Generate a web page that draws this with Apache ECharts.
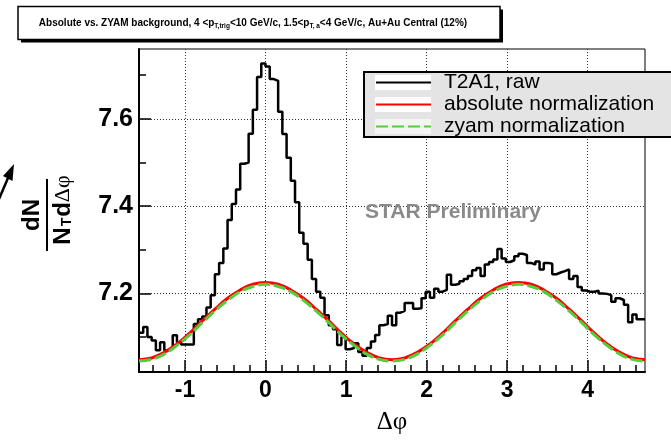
<!DOCTYPE html>
<html><head><meta charset="utf-8">
<script src="https://cdn.jsdelivr.net/npm/echarts@6/dist/echarts.min.js"></script>
<style>html,body{margin:0;padding:0;background:#fff}#c{width:671px;height:440px}</style>
</head><body><div id="c"></div>
<script>
// ---- data ----
const nBins = 120;
const xMin = -Math.PI / 2, xMax = 3 * Math.PI / 2;
const seriesNames = ['T2A1, raw', 'absolute normalization', 'zyam normalization'];
// raw correlation histogram, one value per bin (120 bins from -pi/2 to 3pi/2)
const rawValues = [
  7.110, 7.123, 7.100, 7.092, 7.070, 7.088, 7.070, 7.074, 7.104, 7.088, 7.083, 7.083, 7.083,
  7.130, 7.141, 7.147, 7.168, 7.196, 7.244, 7.270, 7.303, 7.368, 7.405, 7.438, 7.497, 7.500, 7.566, 7.621, 7.696, 7.727,
  7.720, 7.691, 7.687, 7.616, 7.565, 7.511, 7.458, 7.409, 7.339, 7.314, 7.277, 7.233, 7.204,
  7.190, 7.150, 7.127, 7.118, 7.082, 7.100, 7.072, 7.075, 7.086, 7.066, 7.057, 7.075, 7.090, 7.105, 7.127, 7.130, 7.149, 7.127, 7.156, 7.160, 7.178, 7.178, 7.165, 7.166,
  7.189, 7.204, 7.190, 7.211, 7.204, 7.208, 7.243, 7.220, 7.222, 7.228, 7.233, 7.240, 7.253, 7.258, 7.240, 7.266, 7.272, 7.278, 7.302, 7.280, 7.272, 7.276, 7.285,
  7.291, 7.288, 7.270, 7.266, 7.273, 7.255, 7.270, 7.268, 7.244, 7.248, 7.251, 7.255, 7.233, 7.240, 7.215, 7.207, 7.204, 7.204, 7.206, 7.200, 7.199, 7.196, 7.181, 7.189, 7.185, 7.174, 7.134, 7.152, 7.141, 7.141
];
// background curves sampled at 41 evenly spaced points across the axis range
const absValues = [7.048, 7.052, 7.065, 7.084, 7.109, 7.137, 7.164, 7.189, 7.208, 7.221, 7.225, 7.221, 7.208, 7.189, 7.164, 7.137, 7.109, 7.084, 7.065, 7.052, 7.048,
  7.052, 7.065, 7.084, 7.109, 7.137, 7.164, 7.189, 7.208, 7.221, 7.225, 7.221, 7.208, 7.189, 7.164, 7.137, 7.109, 7.084, 7.065, 7.052, 7.048];
const zyamValues = [7.045, 7.049, 7.061, 7.081, 7.105, 7.133, 7.160, 7.184, 7.204, 7.216, 7.221, 7.216, 7.204, 7.184, 7.160, 7.133, 7.105, 7.081, 7.061, 7.049, 7.045,
  7.049, 7.061, 7.081, 7.105, 7.133, 7.160, 7.184, 7.204, 7.216, 7.221, 7.216, 7.204, 7.184, 7.160, 7.133, 7.105, 7.081, 7.061, 7.049, 7.045];
const xMajorTicks = [-1, 0, 1, 2, 3, 4];
const xMinorTicks = [-1.4, -1.2, -0.8, -0.6, -0.4, -0.2, 0.2, 0.4, 0.6, 0.8, 1.2, 1.4, 1.6, 1.8, 2.2, 2.4, 2.6, 2.8, 3.2, 3.4, 3.6, 3.8, 4.2, 4.4, 4.6];
const yMajorTicks = [7.2, 7.4, 7.6];
const yMinorTicks = [7.1, 7.3, 7.5, 7.7];
const yMin = 7.02, yMax = 7.76;

// ---- build ----
const binW = (xMax - xMin) / nBins;
const rawData = [];
for (let i = 0; i <= nBins; i++) rawData.push([xMin + i * binW, rawValues[Math.min(i, nBins - 1)]]);
const nCurve = absValues.length;
const curveStep = (xMax - xMin) / (nCurve - 1);
const absData = absValues.map((v, k) => [xMin + k * curveStep, v]);
const zyamData = zyamValues.map((v, k) => [xMin + k * curveStep, v]);

const SANS = 'Liberation Sans, Arial, sans-serif';
const SERIF = 'Liberation Serif, Times New Roman, serif';
const gridStyle = { show: true, lineStyle: { color: '#333', width: 1, type: [1, 2] } };

const chart = echarts.init(document.getElementById('c'), null, { renderer: 'canvas' });
chart.setOption({
  animation: false,
  backgroundColor: '#fff',
  grid: { left: 139, top: 49, width: 506, height: 336, show: true, borderColor: '#000', borderWidth: 1 },
  xAxis: [{
    type: 'value', min: xMin, max: xMax, position: 'bottom',
    axisLine: { show: true, onZero: false, lineStyle: { color: '#000', width: 2 } },
    axisTick: { show: true, inside: true, length: 12, customValues: xMajorTicks, lineStyle: { color: '#000', width: 1.5 } },
    axisLabel: { customValues: xMajorTicks, fontSize: 23, fontWeight: 'bold', color: '#000', fontFamily: SANS, margin: 7 },
    splitLine: gridStyle,
    name: 'Δφ', nameLocation: 'middle', nameGap: 38,
    nameTextStyle: { fontFamily: SERIF, fontSize: 25, color: '#000' }
  }, {
    type: 'value', min: xMin, max: xMax, position: 'bottom',
    axisLine: { show: false, onZero: false },
    axisTick: { show: true, inside: true, length: 7, customValues: xMinorTicks, lineStyle: { color: '#000', width: 1.5 } },
    axisLabel: { show: false }, splitLine: { show: false }
  }],
  yAxis: [{
    type: 'value', min: yMin, max: yMax, position: 'left',
    axisLine: { show: true, onZero: false, lineStyle: { color: '#000', width: 2 } },
    axisTick: { show: true, inside: true, length: 12, customValues: yMajorTicks, lineStyle: { color: '#000', width: 1.5 } },
    axisLabel: { customValues: yMajorTicks, fontSize: 25, fontWeight: 'bold', color: '#000', fontFamily: SANS, margin: 6 },
    splitLine: gridStyle
  }, {
    type: 'value', min: yMin, max: yMax, position: 'left',
    axisLine: { show: false, onZero: false },
    axisTick: { show: true, inside: true, length: 7, customValues: yMinorTicks, lineStyle: { color: '#000', width: 1.5 } },
    axisLabel: { show: false }, splitLine: { show: false }
  }],
  legend: {
    data: seriesNames, orient: 'vertical', left: 363, top: 71,
    padding: [1, 0, 0, 12], itemGap: 1, itemWidth: 55, itemHeight: 21,
    itemStyle: { opacity: 0 },
    textStyle: { fontSize: 21, fontFamily: SANS, color: '#000', padding: [0, 0, 0, 8] },
    selectedMode: false, z: 5
  },
  series: [{
    name: seriesNames[0], type: 'line', step: 'end', data: rawData, xAxisIndex: 0, yAxisIndex: 0,
    symbol: 'none', lineStyle: { color: '#000', width: 2.5 }, itemStyle: { color: '#000' }, z: 2
  }, {
    name: seriesNames[1], type: 'line', smooth: 0.4, data: absData, xAxisIndex: 0, yAxisIndex: 0,
    symbol: 'none', lineStyle: { color: '#ff0000', width: 3 }, itemStyle: { color: '#ff0000' }, z: 3
  }, {
    name: seriesNames[2], type: 'line', smooth: 0.4, data: zyamData, xAxisIndex: 0, yAxisIndex: 0,
    symbol: 'none', lineStyle: { color: '#55cc3a', width: 3, type: [12, 4] }, itemStyle: { color: '#55cc3a' }, z: 4
  }],
  graphic: [
    // title box with shadow
    { type: 'rect', z: 3, shape: { x: 21, y: 9.5, width: 482, height: 33 }, style: { fill: '#000' } },
    { type: 'rect', z: 3, shape: { x: 18, y: 6.5, width: 482, height: 33 }, style: { fill: '#fff', stroke: '#000', lineWidth: 1.5 } },
    { type: 'text', z: 4, x: 253, y: 23, style: {
        text: '{b|Absolute vs. ZYAM background, 4 <p}{s|T,trig}{b|<10 GeV/c, 1.5<p}{s|T, a}{b|<4 GeV/c, Au+Au Central (12%)}',
        align: 'center', verticalAlign: 'middle',
        rich: { b: { fontSize: 10, fontWeight: 'bold', fontFamily: SANS, fill: '#000' },
                s: { fontSize: 6.5, fontWeight: 'bold', fontFamily: SANS, fill: '#000', padding: [7, 0, 0, 0] } } } },
    // legend box
    { type: 'rect', z: 3, shape: { x: 364, y: 72, width: 320, height: 65 }, style: { fill: '#e4e4e4', stroke: '#000', lineWidth: 2 } },
    { type: 'rect', z: 3, shape: { x: 375, y: 75, width: 56, height: 15 }, style: { fill: '#fff' } },
    { type: 'rect', z: 3, shape: { x: 375, y: 97, width: 56, height: 15 }, style: { fill: '#fff' } },
    { type: 'rect', z: 3, shape: { x: 375, y: 119, width: 56, height: 15 }, style: { fill: '#f4f4f4' } },
    // preliminary label
    { type: 'text', z: 3, x: 453, y: 212, style: { text: 'STAR Preliminary', align: 'center', verticalAlign: 'middle',
        fontSize: 21, fontWeight: 'bold', fontFamily: SANS, fill: '#8a8a8a' } },
    // y-axis title as a fraction, rotated
    { type: 'group', x: 47, y: 215, rotation: Math.PI / 2, children: [
        { type: 'line', shape: { x1: -36, y1: 0, x2: 36, y2: 0 }, style: { stroke: '#000', lineWidth: 2 } },
        { type: 'text', x: 0, y: -14.5, style: { text: 'dN', align: 'center', verticalAlign: 'middle',
            fontSize: 24, fontWeight: 'bold', fontFamily: SANS, fill: '#000' } },
        { type: 'text', x: 5, y: 16.5, style: { text: '{n|N}{s|T}{n|d}{g|Δφ}', align: 'center', verticalAlign: 'middle',
            rich: { n: { fontSize: 24, fontWeight: 'bold', fontFamily: SANS, fill: '#000' },
                    s: { fontSize: 14, fontWeight: 'bold', fontFamily: SANS, fill: '#000', padding: [8, 1, 0, 1] },
                    g: { fontSize: 22, fontFamily: SERIF, fill: '#000' } } } }
    ] },
    // arrow fragment at left edge
    { type: 'polyline', shape: { points: [[-1, 199], [8, 178]] }, style: { stroke: '#000', lineWidth: 2.5 } },
    { type: 'polygon', shape: { points: [[14, 164], [3, 176], [12.5, 181]] }, style: { fill: '#000' } }
  ]
});
</script>
</body></html>
